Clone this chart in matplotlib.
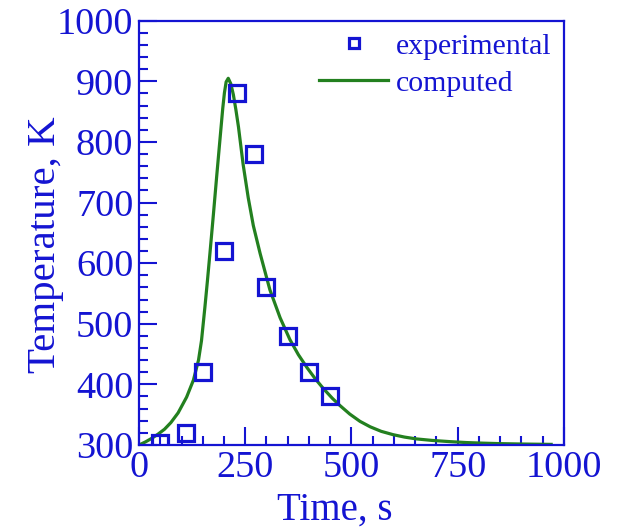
import matplotlib
matplotlib.use("Agg")
import matplotlib.pyplot as plt
from matplotlib.ticker import MultipleLocator

plt.rcParams['font.family'] = ['Liberation Serif', 'DejaVu Serif']

BLUE = '#1414d2'
GREEN = '#23801f'

# experimental data
exp_time = [50, 110, 150, 200, 230, 270, 300, 350, 400, 450]
exp_temp = [303, 320, 420, 620, 880, 780, 560, 480, 420, 380]

# computed curve
comp_time = [0, 15, 30, 45, 60, 75, 92, 112, 128, 140, 147, 155, 161, 167, 175, 183, 191,
             197, 201, 205, 210, 216, 222, 228, 234, 245, 257, 269, 285, 308, 332,
             355, 375, 395, 415, 434, 455, 473, 496, 520, 544, 570, 598, 625, 653,
             690, 732, 770, 810, 850, 890, 930, 970]
comp_temp = [300, 305, 311, 318, 326, 337, 353, 379, 407, 440, 472, 527, 571, 617, 680, 745, 808,
             855, 881, 899, 905, 896, 878, 853, 825, 763, 708, 662, 616, 556, 510,
             474, 449, 428, 409, 393, 377, 365, 351, 339, 330, 322.5, 317, 313, 310,
             307.5, 305.5, 304, 303, 302.2, 301.7, 301.3, 301]

fig = plt.figure(figsize=(6.19, 5.31), dpi=100)
ax = fig.add_axes([0.2246, 0.162, 0.911 - 0.2246, 0.961 - 0.162])

ax.plot(comp_time, comp_temp, color=GREEN, lw=2.3, label='computed', zorder=2,
        solid_joinstyle='round')
ax.plot(exp_time, exp_temp, linestyle='none', marker='s', markersize=11,
        markerfacecolor='none', markeredgecolor=BLUE, markeredgewidth=2.3,
        label='experimental', zorder=3)

ax.set_xlim(0, 1000)
ax.set_ylim(300, 1000)
ax.xaxis.set_major_locator(MultipleLocator(250))
ax.xaxis.set_minor_locator(MultipleLocator(50))
ax.yaxis.set_major_locator(MultipleLocator(100))
ax.yaxis.set_minor_locator(MultipleLocator(20))

ax.tick_params(which='both', direction='in', colors=BLUE, top=False, right=False,
               labelsize=27.5, width=1.5)
ax.tick_params(which='major', length=13, pad=4)
ax.tick_params(which='minor', length=6.5)
for s in ax.spines.values():
    s.set_color(BLUE)
    s.set_linewidth(1.6)

ax.set_xlabel('Time, s', fontsize=28, color=BLUE)
ax.set_ylabel('Temperature, K', fontsize=29.5, color=BLUE)
ax.xaxis.set_label_coords(0.461, -0.11)
ax.yaxis.set_label_coords(-0.176, 0.471)

handles, labels = ax.get_legend_handles_labels()
leg = ax.legend(handles[::-1], labels[::-1], loc='upper right', frameon=False,
                fontsize=21.5, handlelength=2.32, handletextpad=0.27,
                labelspacing=0.35, borderaxespad=0.3, borderpad=0.1,
                markerscale=0.67)
for t in leg.get_texts():
    t.set_color(BLUE)

fig.savefig('out.png', dpi=100)
